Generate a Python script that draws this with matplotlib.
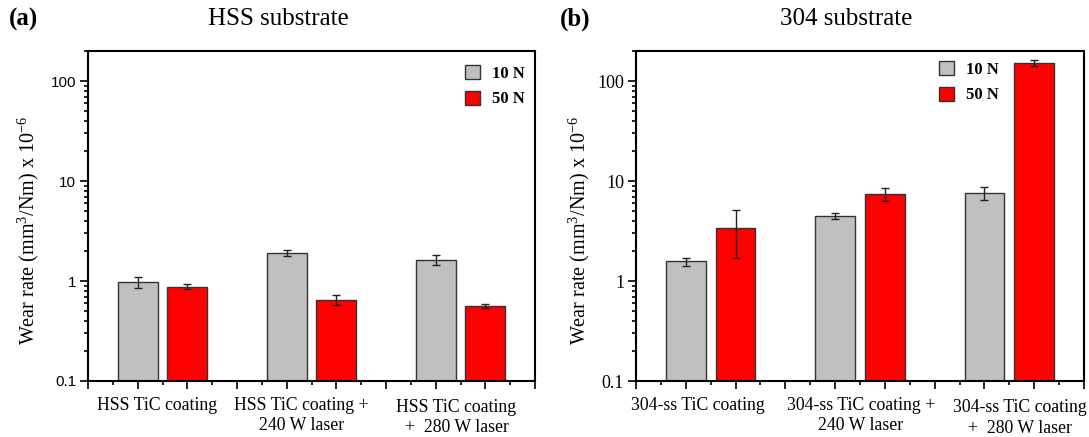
import matplotlib
matplotlib.use("Agg")
import matplotlib.pyplot as plt
import matplotlib.transforms as mtransforms
from matplotlib.ticker import FixedLocator, LogLocator, NullFormatter, FixedFormatter
import numpy as np

# ----------------------------------------------------------------------------------------------------------------------
#  DATA
# ----------------------------------------------------------------------------------------------------------------------
loads        = ['10 N', '50 N']
bar_pos_10N  = [1, 4, 7]
bar_pos_50N  = [2, 5, 8]

hss_labels   = ['HSS TiC coating', 'HSS TiC coating +\n240 W laser', 'HSS TiC coating\n+  280 W laser']
hss_10N      = [0.98, 1.92, 1.63]
hss_10N_err  = [0.13, 0.14, 0.18]
hss_50N      = [0.88, 0.65, 0.563]
hss_50N_err  = [0.055, 0.08, 0.025]

ss_labels    = ['304-ss TiC coating', '304-ss TiC coating +\n240 W laser', '304-ss TiC coating\n+  280 W laser']
ss_10N       = [1.57, 4.49, 7.6]
ss_10N_err   = [0.14, 0.28, 1.15]
ss_50N       = [3.43, 7.43, 152]
ss_50N_err   = [1.74, 1.05, 11]

ytick_vals   = [0.1, 1, 10, 100]
ytick_text   = ['0.1', '1', '10', '100']

# ----------------------------------------------------------------------------------------------------------------------
#  PLOT
# ----------------------------------------------------------------------------------------------------------------------
serif = 'Liberation Serif'
sans  = 'Liberation Sans'
plt.rcParams.update({'mathtext.fontset': 'custom',
                     'mathtext.rm': serif,
                     'mathtext.it': serif + ':italic',
                     'mathtext.bf': serif + ':bold'})
c_gray, c_red, c_edge = '#c0c0c0', '#ff0000', '#333333'

fig = plt.figure(figsize=(10.89, 4.37), dpi=100)
W, H = 1089, 437
axis_1 = fig.add_axes([88/W, 1-381/H, 447/W, 330/H])
axis_2 = fig.add_axes([636/W, 1-381/H, 448/W, 330/H])


def draw_panel(ax, v10, e10, v50, e50, labels, label_x, label_y, tick_font, tick_size, leg_anchor, ylab_x):
    ax.bar(bar_pos_10N, v10, width=0.8, color=c_gray, edgecolor=c_edge, linewidth=1.0, label=loads[0], zorder=2)
    ax.bar(bar_pos_50N, v50, width=0.8, color=c_red, edgecolor=c_edge, linewidth=1.0, label=loads[1], zorder=2)
    ax.errorbar(bar_pos_10N, v10, yerr=e10, fmt='none', ecolor='#222222', elinewidth=1.0, capsize=3, capthick=1.0, zorder=3)
    ax.errorbar(bar_pos_50N, v50, yerr=e50, fmt='none', ecolor='#222222', elinewidth=1.0, capsize=3, capthick=1.0, zorder=3)

    ax.set_yscale('log')
    ax.set_ylim(0.1, 200)
    ax.set_xlim(0, 9)

    ax.yaxis.set_major_locator(FixedLocator(ytick_vals))
    ax.yaxis.set_major_formatter(FixedFormatter(ytick_text))
    ax.yaxis.set_minor_locator(LogLocator(base=10, subs=np.arange(2, 10)))
    ax.yaxis.set_minor_formatter(NullFormatter())
    ax.xaxis.set_major_locator(FixedLocator(np.arange(0, 10)))
    ax.xaxis.set_minor_locator(FixedLocator(np.arange(0.5, 9, 1)))
    ax.set_xticklabels([])

    ax.tick_params(which='both', direction='out', top=False, right=False, width=1.2, color='black')
    ax.tick_params(which='major', length=5.5)
    ax.tick_params(which='minor', length=2.8)
    ax.tick_params(axis='y', which='major', pad=3)
    for lbl in ax.get_yticklabels():
        lbl.set_fontfamily(tick_font)
        lbl.set_fontsize(tick_size)
    for sp in ax.spines.values():
        sp.set_linewidth(1.5)

    ax.set_ylabel(r'Wear rate (mm$^{3}$/Nm) x 10$^{-6}$', fontfamily=serif, fontsize=14.5)
    ax.yaxis.set_label_coords(ylab_x, 0.455)

    trans = mtransforms.blended_transform_factory(ax.transData, ax.transAxes)
    for lab, lx, ly in zip(labels, label_x, label_y):
        ax.text(lx, ly, lab, transform=trans, ha='center', va='top', fontfamily=serif,
                fontsize=12.8, linespacing=1.28, multialignment='center')

    ax.legend(loc='upper left', bbox_to_anchor=leg_anchor, frameon=False, borderaxespad=0, borderpad=0,
              handlelength=0.9, handleheight=0.9, handletextpad=0.75, labelspacing=0.55,
              prop={'family': serif, 'weight': 'bold', 'size': 12})


draw_panel(axis_1, hss_10N, hss_10N_err, hss_50N, hss_50N_err, hss_labels,
           [1.39, 4.3, 7.42], [-0.048, -0.048, -0.054], sans, 11, (0.843, 0.958), -0.105)
draw_panel(axis_2, ss_10N, ss_10N_err, ss_50N, ss_50N_err, ss_labels,
           [1.24, 4.52, 7.71], [-0.048, -0.048, -0.056], serif, 13, (0.676, 0.97), -0.099)

# panel titles
fig.text(24/W, 1-19/H, '(a)', ha='center', va='center', fontfamily=serif, fontweight='bold', fontsize=18)
fig.text(278/W, 1-19/H, 'HSS substrate', ha='center', va='center', fontfamily=serif, fontsize=18)
fig.text(575/W, 1-19/H, '(b)', ha='center', va='center', fontfamily=serif, fontweight='bold', fontsize=18)
fig.text(846/W, 1-19/H, '304 substrate', ha='center', va='center', fontfamily=serif, fontsize=18)

fig.savefig('out.png', dpi=100)
